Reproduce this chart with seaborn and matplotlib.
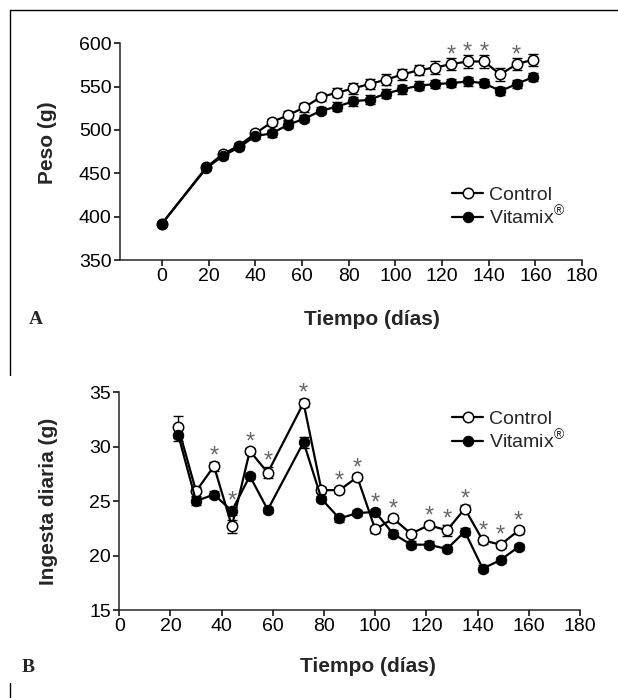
import numpy as np
import pandas as pd
import matplotlib
matplotlib.use("Agg")
import matplotlib.pyplot as plt
from matplotlib.lines import Line2D
import seaborn as sns

# DATA - panel A (peso)
dias_peso = [0, 19, 26, 33, 40, 47, 54, 61, 68, 75, 82, 89, 96, 103, 110, 117, 124, 131, 138, 145, 152, 159]
peso_control = [392, 457, 472, 482, 496, 509, 517, 526, 538, 543, 548, 553, 558, 564, 569, 572, 576, 579, 579, 564, 576, 581]
peso_vitamix = [392, 456, 470, 480, 493, 496, 506, 513, 522, 527, 533, 535, 542, 547, 551, 553, 554, 556, 554, 545, 553, 561]
err_peso_control = [1, 2, 3, 3, 4, 4, 5, 5, 5, 5, 6, 6, 6, 6, 6, 7, 7, 7, 7, 7, 7, 7]
err_peso_vitamix = [1, 2, 3, 3, 3, 4, 4, 4, 4, 5, 5, 5, 5, 5, 5, 5, 5, 5, 5, 5, 5, 5]
sig_peso = [124, 131, 138, 152]

# DATA - panel B (ingesta)
dias_ingesta = [23, 30, 37, 44, 51, 58, 72, 79, 86, 93, 100, 107, 114, 121, 128, 135, 142, 149, 156]
ing_control = [31.8, 25.9, 28.2, 22.7, 29.6, 27.6, 34.0, 26.0, 26.0, 27.2, 22.4, 23.4, 22.0, 22.8, 22.3, 24.3, 21.4, 21.0, 22.3]
ing_vitamix = [31.1, 25.0, 25.6, 24.1, 27.3, 24.2, 30.4, 25.2, 23.4, 23.9, 24.0, 22.0, 21.0, 21.0, 20.6, 22.2, 18.8, 19.6, 20.8]
err_ing_control = [1.0, 0.4, 0.4, 0.6, 0.3, 0.5, 0.4, 0.3, 0.3, 0.3, 0.3, 0.3, 0.3, 0.3, 0.5, 0.3, 0.3, 0.3, 0.3]
err_ing_vitamix = [0.6, 0.4, 0.3, 0.4, 0.3, 0.3, 0.5, 0.3, 0.3, 0.3, 0.3, 0.3, 0.3, 0.3, 0.3, 0.3, 0.3, 0.3, 0.3]
sig_ingesta = [37, 44, 51, 58, 72, 86, 93, 100, 107, 121, 128, 135, 142, 149, 156]

labels = ["Control", r"Vitamix$^{\circledR}$"]

sns.set_style("ticks")
plt.rcParams["font.family"] = ["Liberation Sans", "DejaVu Sans"]
plt.rcParams["mathtext.fontset"] = "custom"
plt.rcParams["mathtext.rm"] = "Liberation Sans"

fig = plt.figure(figsize=(6.18, 6.98), dpi=100)
ax1 = fig.add_axes([0.1942, 0.6275, 0.7476, 0.3105])
ax2 = fig.add_axes([0.193, 0.126, 0.7455, 0.3123])


def draw_panel(ax, x, yc, yv, ec, ev, sig, offset):
    df = pd.DataFrame({"x": x, "c": yc, "v": yv})
    ax.errorbar(x, yc, yerr=ec, fmt="none", ecolor="black", elinewidth=1,
                capsize=3.5, capthick=1, zorder=2)
    ax.errorbar(x, yv, yerr=ev, fmt="none", ecolor="black", elinewidth=1,
                capsize=3.5, capthick=1, zorder=2)
    sns.lineplot(data=df, x="x", y="c", ax=ax, color="black", lw=1.6,
                 marker="o", markersize=7.5, markerfacecolor="white",
                 markeredgecolor="black", markeredgewidth=1.1, zorder=3,
                 label=labels[0])
    sns.lineplot(data=df, x="x", y="v", ax=ax, color="black", lw=1.6,
                 marker="o", markersize=7.5, markerfacecolor="black",
                 markeredgecolor="black", zorder=4, label=labels[1])
    for d in sig:
        i = list(x).index(d)
        top = max(yc[i] + ec[i], yv[i] + ev[i])
        ax.text(d, top + offset, "*", ha="center", va="center",
                fontsize=17, color="0.4", clip_on=False)


draw_panel(ax1, dias_peso, peso_control, peso_vitamix,
           err_peso_control, err_peso_vitamix, sig_peso, 3)
draw_panel(ax2, dias_ingesta, ing_control, ing_vitamix,
           err_ing_control, err_ing_vitamix, sig_ingesta, 0.5)

ax1.set_xlim(-18, 180)
ax1.set_ylim(350, 600)
ax1.set_yticks(np.arange(350, 601, 50))
ax2.set_xlim(0, 180)
ax2.set_ylim(15, 35)
ax2.set_yticks(np.arange(15, 36, 5))

for ax in (ax1, ax2):
    ax.set_xticks(np.arange(0, 181, 20))
    sns.despine(ax=ax)
    for s in ("left", "bottom"):
        ax.spines[s].set_linewidth(1.1)
    ax.tick_params(length=4, width=1.1, labelsize=14, pad=2, colors="black")
    ax.set_xlabel("Tiempo (días)", fontsize=15, fontweight="bold")

ax1.set_ylabel("Peso (g)", fontsize=15, fontweight="bold")
ax2.set_ylabel("Ingesta diaria (g)", fontsize=15, fontweight="bold")
ax1.yaxis.set_label_coords(-0.136, 0.54)
ax2.yaxis.set_label_coords(-0.134, 0.5)
ax1.xaxis.set_label_coords(0.545, -0.23)
ax2.xaxis.set_label_coords(0.54, -0.216)

ax1.legend(loc="center left", bbox_to_anchor=(452 / 618, 1 - 207 / 698),
           bbox_transform=fig.transFigure, frameon=False, fontsize=14,
           handlelength=1.6, handletextpad=0.3, labelspacing=0.0,
           borderpad=0, borderaxespad=0)
ax2.legend(loc="center left", bbox_to_anchor=(452 / 618, 1 - 431 / 698),
           bbox_transform=fig.transFigure, frameon=False, fontsize=14,
           handlelength=1.6, handletextpad=0.3, labelspacing=0.0,
           borderpad=0, borderaxespad=0)

fig.text(36 / 618, 1 - 320 / 698, "A", fontsize=14, fontweight="bold",
         family="Liberation Serif", ha="center", va="center")
fig.text(28 / 618, 1 - 668 / 698, "B", fontsize=14, fontweight="bold",
         family="Liberation Serif", ha="center", va="center")

# frame lines of the original layout
fig.add_artist(Line2D([10 / 618, 1], [1 - 10 / 698, 1 - 10 / 698],
                      transform=fig.transFigure, color="black", lw=1))
fig.add_artist(Line2D([10 / 618, 10 / 618], [1 - 10 / 698, 1 - 375 / 698],
                      transform=fig.transFigure, color="black", lw=1))
fig.add_artist(Line2D([10 / 618, 10 / 618], [1 - 683 / 698, 0],
                      transform=fig.transFigure, color="black", lw=1))

fig.savefig("out.png", dpi=100)
